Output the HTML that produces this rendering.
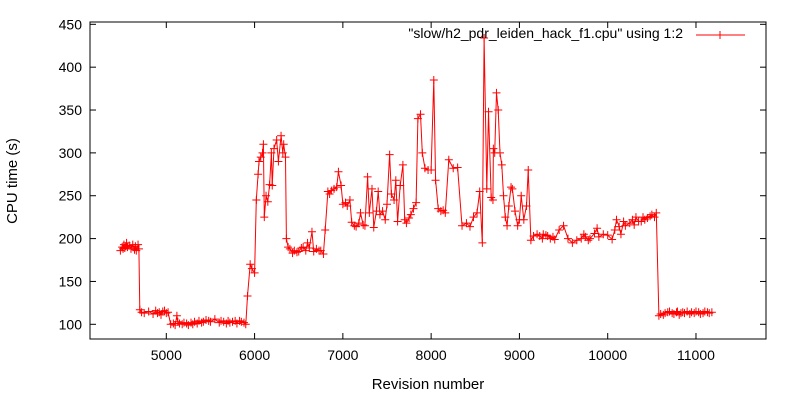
<!DOCTYPE html>
<html><head><meta charset="utf-8"><style>
body{margin:0;background:#fff}
svg{display:block;font-family:"Liberation Sans",sans-serif}
</style></head><body>
<svg id="chart" width="800" height="400">
<rect x="0" y="0" width="800" height="400" fill="#fff"/>
<g id="axes"></g>
<g id="series"></g>
<rect x="90" y="22" width="676" height="317" fill="none" stroke="#000" stroke-width="1"/>
<text x="683" y="38" font-size="14" text-anchor="end" fill="#000">"slow/h2_pdr_leiden_hack_f1.cpu" using 1:2</text>
<g>
<line x1="696" y1="35" x2="745" y2="35" stroke="#f00" stroke-width="1"/>
<line x1="716" y1="35" x2="724" y2="35" stroke="#f00"/><line x1="720" y1="31" x2="720" y2="39" stroke="#f00"/>
</g>
<text x="428" y="389" font-size="15" text-anchor="middle">Revision number</text>
<text transform="translate(17,181) rotate(-90)" font-size="15" text-anchor="middle">CPU time (s)</text>
</svg>
<script>
const xTicks=[5000,6000,7000,8000,9000,10000,11000];
const yTicks=[100,150,200,250,300,350,400,450];
const revs=[4480,4500,4510,4520,4530,4540,4550,4560,4580,4600,4620,4640,4650,4660,4680,4690,4700,4720,4750,4800,4850,4880,4900,4920,4940,4960,4980,5000,5020,5050,5080,5100,5120,5130,5150,5180,5200,5230,5250,5280,5300,5320,5350,5370,5400,5420,5450,5480,5500,5550,5600,5620,5650,5680,5700,5720,5750,5780,5800,5830,5850,5880,5900,5920,5950,5970,6000,6020,6040,6050,6070,6090,6100,6110,6130,6150,6170,6190,6200,6220,6250,6270,6300,6320,6330,6350,6360,6380,6400,6430,6450,6480,6500,6530,6550,6580,6600,6620,6650,6670,6700,6730,6750,6780,6800,6830,6850,6870,6900,6930,6950,6980,7000,7030,7050,7080,7100,7130,7150,7180,7200,7230,7250,7280,7300,7330,7350,7380,7400,7420,7450,7480,7500,7530,7550,7580,7600,7620,7650,7680,7700,7720,7750,7770,7800,7830,7850,7880,7900,7930,7965,8000,8030,8050,8080,8110,8136,8160,8200,8250,8300,8350,8400,8440,8480,8520,8550,8580,8600,8630,8650,8680,8700,8705,8720,8740,8760,8780,8800,8820,8840,8860,8880,8905,8920,8950,8980,9000,9020,9050,9080,9100,9130,9160,9200,9230,9260,9270,9300,9320,9350,9380,9400,9450,9500,9550,9600,9650,9700,9730,9750,9780,9800,9850,9880,9900,9950,10000,10050,10080,10100,10130,10150,10180,10200,10250,10280,10300,10320,10350,10380,10400,10420,10450,10480,10500,10530,10550,10580,10600,10630,10650,10680,10700,10730,10750,10780,10790,10810,10830,10850,10870,10900,10930,10950,10980,11000,11030,11050,11080,11100,11130,11150,11180,11200,11230,11250,11280,11300,11330,11350,11380,11400,11430,11450];
const cpu=[186,190,188,193,189,191,195,190,192,188,193,187,191,186,193,188,117,114,113,115,112,116,113,114,111,115,116,113,114,100,101,99,110,103,101,100,102,101,99,102,100,103,101,104,102,103,105,104,103,106,102,104,103,101,104,102,103,104,101,104,103,102,100,133,170,165,160,245,275,290,295,300,310,225,250,243,263,300,262,305,315,290,320,300,310,295,200,190,188,183,186,184,185,189,190,186,195,189,208,185,188,186,186,182,210,255,252,256,258,260,278,262,240,242,238,245,219,215,214,218,230,216,215,272,230,258,213,232,255,228,232,222,240,298,252,245,268,220,262,286,222,218,224,228,235,242,340,345,300,282,280,280,385,268,235,232,233,230,292,282,283,215,218,214,225,230,255,195,434,258,348,248,245,305,300,370,350,300,286,250,225,215,238,260,258,232,215,222,250,222,238,280,198,203,205,203,200,205,204,203,200,202,199,210,215,200,195,198,200,205,202,198,200,206,212,202,205,204,199,210,222,214,205,220,215,218,222,216,225,220,220,225,222,224,226,228,225,230,110,112,111,113,114,115,113,112,114,115,111,113,114,113,115,112,114,113,115,114,112,113,115,114,113,114];
const NS='http://www.w3.org/2000/svg';
const L=90,R=766,T=22,B=339;
function xs(r){return 166.3+(r-5000)*0.08828;}
function ys(v){return 324.3-(v-100)*0.8571;}
const axes=document.getElementById('axes');
function mk(tag,attrs,parent){const e=document.createElementNS(NS,tag);for(const k in attrs)e.setAttribute(k,attrs[k]);parent.appendChild(e);return e;}
xTicks.forEach(t=>{
  const x=xs(t);
  const g=mk('g',{},axes);
  
  
  mk('line',{x1:x,y1:B,x2:x,y2:B-6,stroke:'#000'},g);
  mk('line',{x1:x,y1:T,x2:x,y2:T+6,stroke:'#000'},g);
  const tx=mk('text',{x:x,y:B+21,'font-size':14,'text-anchor':'middle'},g);
  tx.textContent=t;
});
yTicks.forEach(t=>{
  const y=ys(t);
  const g=mk('g',{},axes);
  
  
  mk('line',{x1:L,y1:y,x2:L+6,y2:y,stroke:'#000'},g);
  mk('line',{x1:R,y1:y,x2:R-6,y2:y,stroke:'#000'},g);
  const tx=mk('text',{x:L-8,y:y+5,'font-size':14,'text-anchor':'end'},g);
  tx.textContent=t;
});
const s=document.getElementById('series');
let d='';
revs.forEach((r,i)=>{d+=(i?'L':'M')+xs(r).toFixed(1)+' '+ys(cpu[i]).toFixed(1);});
const path=mk('path',{d:d,fill:'none',stroke:'#f00','stroke-width':1},s);


revs.forEach((r,i)=>{
  const x=xs(r),y=ys(cpu[i]);
  const m=mk('path',{d:`M${x-4} ${y}H${x+4}M${x} ${y-4}V${y+4}`,stroke:'#f00','stroke-width':1},s);
  
  
});
</script>
</body></html>
